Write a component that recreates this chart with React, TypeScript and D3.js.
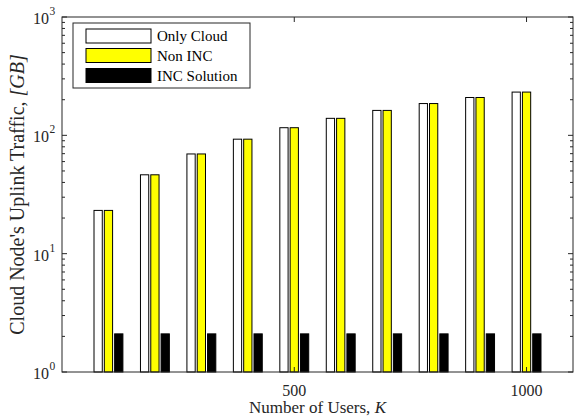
import React from "react";
import * as d3 from "d3";

const users = [100, 200, 300, 400, 500, 600, 700, 800, 900, 1000];
const onlyCloud = [23.2, 46.4, 69.6, 92.8, 116, 139.2, 162.4, 185.6, 208.8, 232];
const nonINC = [23.2, 46.4, 69.6, 92.8, 116, 139.2, 162.4, 185.6, 208.8, 232];
const incSolution = [2.1, 2.1, 2.1, 2.1, 2.1, 2.1, 2.1, 2.1, 2.1, 2.1];
const seriesNames = ["Only Cloud", "Non INC", "INC Solution"];
const seriesColors = ["#ffffff", "#ffff00", "#000000"];
const xTicks = [500, 1000];
const yExps = [0, 1, 2, 3];

const W = 576;
const H = 419;
const M = { left: 62, right: 573, top: 17, bottom: 372 };
const FONT = "'Liberation Serif', 'Times New Roman', serif";
const AX = "#262626";

export default function App() {
  const x = d3.scaleLinear().domain([0, 1100]).range([M.left, M.right]);
  const y = d3.scaleLog().domain([1, 1000]).range([M.bottom, M.top]);
  const series = [onlyCloud, nonINC, incSolution];
  const slot = 22.2;
  const bw = 17.8;

  const minorTicks: number[] = [];
  for (let e = 0; e < 3; e++) {
    for (let m = 2; m <= 9; m++) minorTicks.push(m * Math.pow(10, e));
  }

  const legendRows = [29, 48.5, 68.5];

  return (
    <svg
      width={W}
      height={H}
      style={{ position: "absolute", left: 0, top: 0, background: "#fff" }}
      fontFamily={FONT}
    >
      <rect x={0} y={0} width={W} height={H} fill="#fff" />
      {series.map((vals, si) =>
        vals.map((v, i) => {
          const cx = users[i] + (si - 1) * slot;
          const x0 = x(cx - bw / 2);
          const x1 = x(cx + bw / 2);
          return (
            <rect
              key={`${si}-${i}`}
              x={x0}
              y={y(v)}
              width={x1 - x0}
              height={y(1) - y(v)}
              fill={seriesColors[si]}
              stroke="#000"
              strokeWidth={1}
            />
          );
        })
      )}
      <rect
        x={M.left}
        y={M.top}
        width={M.right - M.left}
        height={M.bottom - M.top}
        fill="none"
        stroke={AX}
        strokeWidth={1}
      />
      {xTicks.map((t) => (
        <g key={t}>
          <line x1={x(t)} x2={x(t)} y1={M.bottom} y2={M.bottom - 5} stroke={AX} />
          <line x1={x(t)} x2={x(t)} y1={M.top} y2={M.top + 5} stroke={AX} />
          <text x={x(t)} y={M.bottom + 24} textAnchor="middle" fontSize={16} fill="#262626">
            {t}
          </text>
        </g>
      ))}
      {yExps.map((e) => {
        const yy = y(Math.pow(10, e));
        return (
          <g key={e}>
            <line x1={M.left} x2={M.left + 5} y1={yy} y2={yy} stroke={AX} />
            <line x1={M.right} x2={M.right - 5} y1={yy} y2={yy} stroke={AX} />
            <text x={49} y={yy + 7} textAnchor="end" fontSize={16} fill="#262626">
              10
            </text>
            <text x={49.5} y={yy - 2} textAnchor="start" fontSize={11.5} fill="#262626">
              {e}
            </text>
          </g>
        );
      })}
      {minorTicks.map((t) => (
        <g key={t}>
          <line x1={M.left} x2={M.left + 3} y1={y(t)} y2={y(t)} stroke={AX} />
          <line x1={M.right} x2={M.right - 3} y1={y(t)} y2={y(t)} stroke={AX} />
        </g>
      ))}
      <text
        x={(M.left + M.right) / 2}
        y={413}
        textAnchor="middle"
        fontSize={17}
        fill="#262626"
      >
        Number of Users, <tspan fontStyle="italic">K</tspan>
      </text>
      <text
        transform={`translate(24, ${(M.top + M.bottom) / 2}) rotate(-90)`}
        textAnchor="middle"
        fontSize={20}
        fill="#262626"
      >
        Cloud Node's Uplink Traffic, <tspan fontStyle="italic">[GB]</tspan>
      </text>
      <rect x={73} y={23} width={177} height={65} fill="#fff" stroke={AX} strokeWidth={1} />
      {seriesNames.map((n, i) => (
        <g key={n}>
          <rect
            x={86}
            y={legendRows[i]}
            width={65}
            height={14}
            fill={seriesColors[i]}
            stroke="#000"
            strokeWidth={1}
          />
          <text x={157} y={legendRows[i] + 12} fontSize={15} fill="#000">
            {n}
          </text>
        </g>
      ))}
    </svg>
  );
}
